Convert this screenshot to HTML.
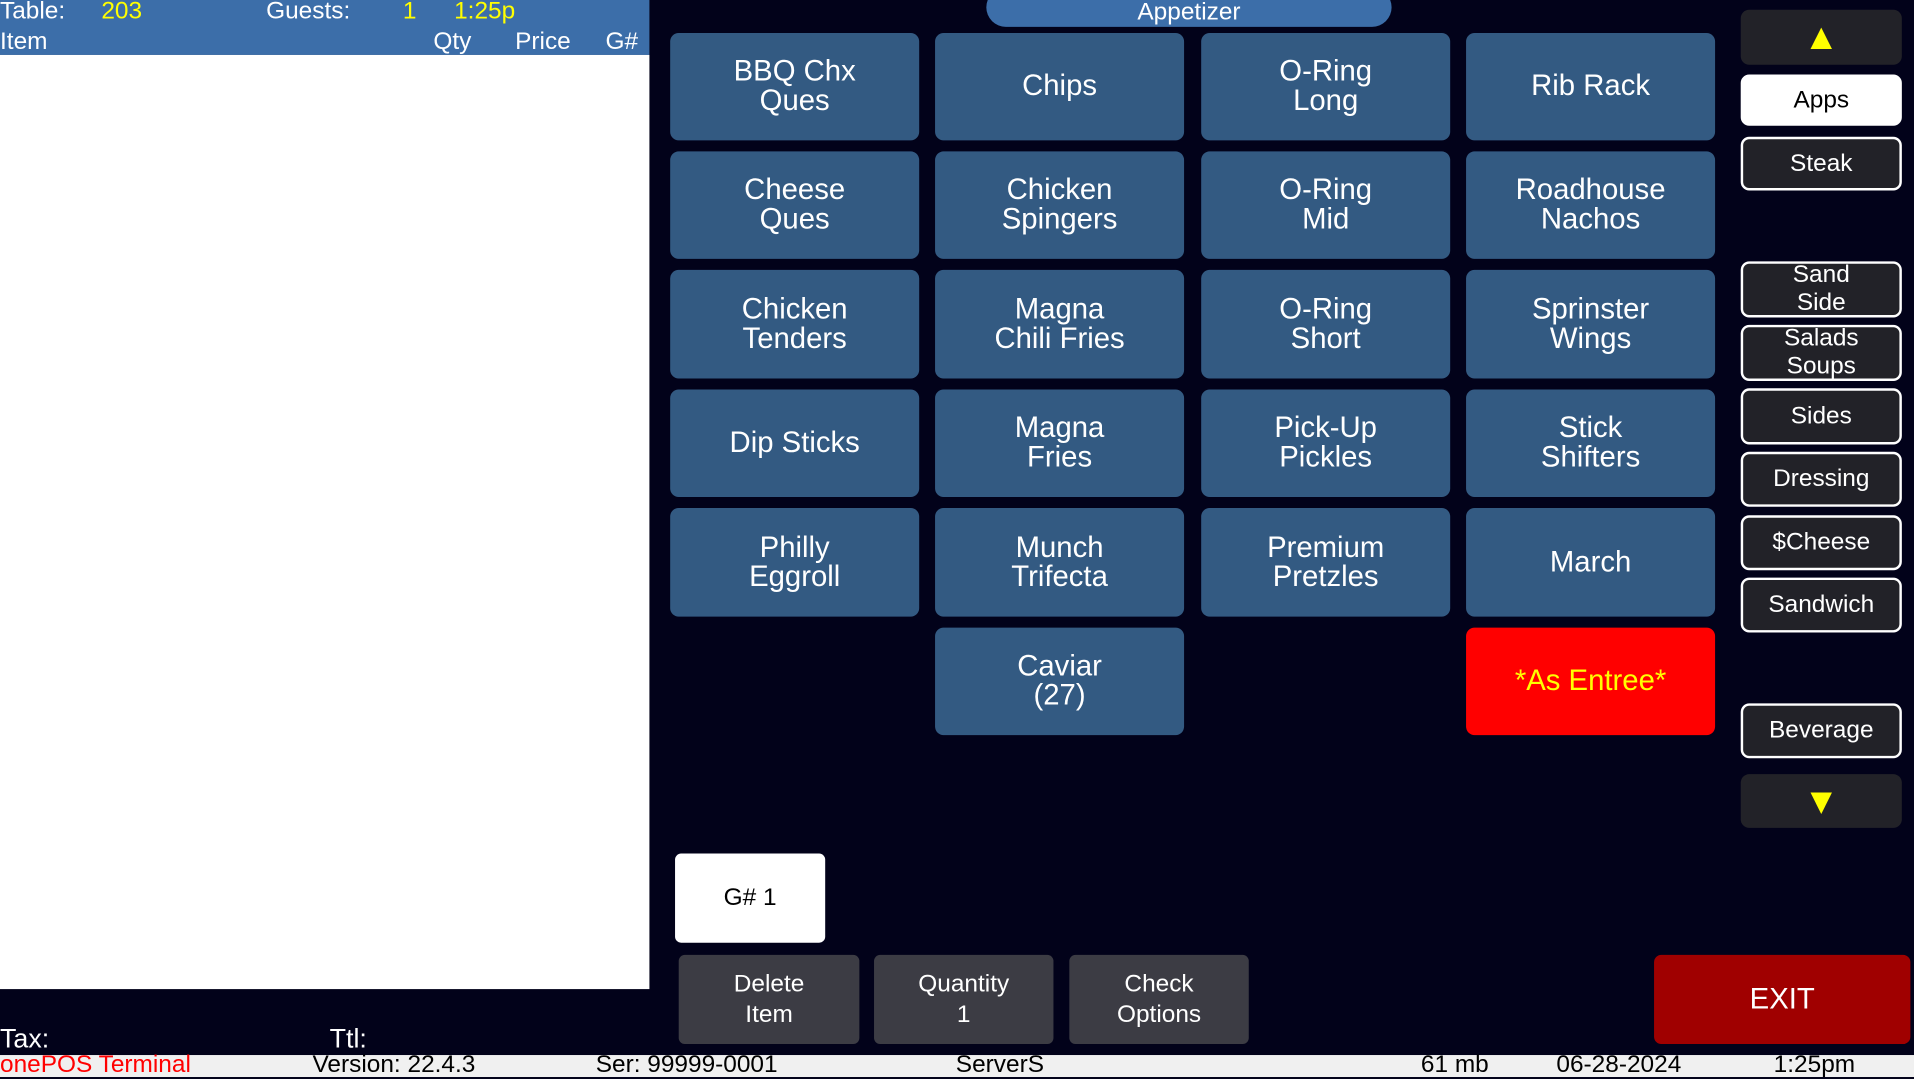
<!DOCTYPE html>
<html><head><meta charset="utf-8"><style>
html,body{margin:0;padding:0;width:1914px;height:1077px;overflow:hidden;background:#02021a;}
#s{position:absolute;left:0;top:0;width:1568px;height:882px;transform:scale(1.2207,1.2211);transform-origin:0 0;font-family:"Liberation Sans",sans-serif;}
.a{position:absolute;}
.b{position:absolute;background:#335a82;border-radius:7px;color:#fff;font-size:24px;line-height:24px;display:flex;align-items:center;justify-content:center;text-align:center;}
.r{position:absolute;left:1426px;width:132px;background:#222228;border:2px solid #fff;border-radius:7px;color:#fff;font-size:20px;line-height:23px;display:flex;align-items:center;justify-content:center;text-align:center;box-sizing:border-box;}
.g{position:absolute;background:#3c3c44;border-radius:5px;color:#fff;font-size:20px;line-height:25px;display:flex;align-items:center;justify-content:center;text-align:center;}
.t{position:absolute;font-size:20px;white-space:nowrap;}
</style></head><body><div id="s">
<div class="a" style="left:0;top:0;width:532px;height:45px;background:#3c6ea9"></div>
<div class="a" style="left:0;top:45px;width:532px;height:765px;background:#fff"></div>
<div class="t" style="left:0;top:-2px;color:#fff">Table:</div>
<div class="t" style="left:83px;top:-2px;color:#ff0">203</div>
<div class="t" style="left:218px;top:-2px;color:#fff">Guests:</div>
<div class="t" style="left:330px;top:-2px;color:#ff0">1</div>
<div class="t" style="left:372px;top:-2px;color:#ff0">1:25p</div>
<div class="t" style="left:0;top:23px;color:#fff">Item</div>
<div class="t" style="left:355px;top:23px;color:#fff">Qty</div>
<div class="t" style="left:422px;top:23px;color:#fff">Price</div>
<div class="t" style="left:496px;top:23px;color:#fff">G#</div>
<div class="a" style="left:808px;top:-10px;width:332px;height:32px;background:#3c6ea9;border-radius:16px;color:#fff;font-size:20px;text-align:center;line-height:40px">Appetizer</div>

<div class="b" style="left:549px;top:27px;width:204px;height:88px">BBQ Chx<br>Ques</div>
<div class="b" style="left:766px;top:27px;width:204px;height:88px">Chips</div>
<div class="b" style="left:984px;top:27px;width:204px;height:88px">O-Ring<br>Long</div>
<div class="b" style="left:1201px;top:27px;width:204px;height:88px">Rib Rack</div>

<div class="b" style="left:549px;top:124px;width:204px;height:88px">Cheese<br>Ques</div>
<div class="b" style="left:766px;top:124px;width:204px;height:88px">Chicken<br>Spingers</div>
<div class="b" style="left:984px;top:124px;width:204px;height:88px">O-Ring<br>Mid</div>
<div class="b" style="left:1201px;top:124px;width:204px;height:88px">Roadhouse<br>Nachos</div>

<div class="b" style="left:549px;top:221px;width:204px;height:89px">Chicken<br>Tenders</div>
<div class="b" style="left:766px;top:221px;width:204px;height:89px">Magna<br>Chili Fries</div>
<div class="b" style="left:984px;top:221px;width:204px;height:89px">O-Ring<br>Short</div>
<div class="b" style="left:1201px;top:221px;width:204px;height:89px">Sprinster<br>Wings</div>

<div class="b" style="left:549px;top:319px;width:204px;height:88px">Dip Sticks</div>
<div class="b" style="left:766px;top:319px;width:204px;height:88px">Magna<br>Fries</div>
<div class="b" style="left:984px;top:319px;width:204px;height:88px">Pick-Up<br>Pickles</div>
<div class="b" style="left:1201px;top:319px;width:204px;height:88px">Stick<br>Shifters</div>

<div class="b" style="left:549px;top:416px;width:204px;height:89px">Philly<br>Eggroll</div>
<div class="b" style="left:766px;top:416px;width:204px;height:89px">Munch<br>Trifecta</div>
<div class="b" style="left:984px;top:416px;width:204px;height:89px">Premium<br>Pretzles</div>
<div class="b" style="left:1201px;top:416px;width:204px;height:89px">March</div>

<div class="b" style="left:766px;top:514px;width:204px;height:88px">Caviar<br>(27)</div>
<div class="b" style="left:1201px;top:514px;width:204px;height:88px;background:#f00;color:#ff0">*As Entree*</div>

<div class="r" style="top:8px;height:45px;border:none;background:#222228;color:#ff0;font-size:30px">▲</div>
<div class="r" style="top:61px;height:42px;background:#fff;color:#000">Apps</div>
<div class="r" style="top:112px;height:44px">Steak</div>
<div class="r" style="top:214px;height:46px">Sand<br>Side</div>
<div class="r" style="top:266px;height:46px">Salads<br>Soups</div>
<div class="r" style="top:318px;height:46px">Sides</div>
<div class="r" style="top:370px;height:45px">Dressing</div>
<div class="r" style="top:422px;height:45px">$Cheese</div>
<div class="r" style="top:473px;height:45px">Sandwich</div>
<div class="r" style="top:576px;height:45px">Beverage</div>
<div class="r" style="top:634px;height:44px;border:none;color:#ff0;font-size:30px">▼</div>

<div class="a" style="left:553px;top:699px;width:123px;height:73px;background:#fff;border-radius:5px;font-size:20px;line-height:73px;text-align:center;color:#000">G# 1</div>
<div class="g" style="left:556px;top:782px;width:148px;height:73px">Delete<br>Item</div>
<div class="g" style="left:716px;top:782px;width:147px;height:73px">Quantity<br>1</div>
<div class="g" style="left:876px;top:782px;width:147px;height:73px">Check<br>Options</div>
<div class="a" style="left:1355px;top:782px;width:210px;height:73px;background:#a00000;border-radius:6px;color:#fff;font-size:24px;line-height:73px;text-align:center">EXIT</div>

<div class="t" style="left:0;top:838px;color:#fff;font-size:22px">Tax:</div>
<div class="t" style="left:270px;top:838px;color:#fff;font-size:22px">Ttl:</div>

<div class="a" style="left:0;top:864px;width:1568px;height:18px;background:#f0f0f0"></div>
<div class="t" style="left:0;top:861px;color:#f00">onePOS Terminal</div>
<div class="t" style="left:256px;top:861px;color:#000">Version: 22.4.3</div>
<div class="t" style="left:488px;top:861px;color:#000">Ser: 99999-0001</div>
<div class="t" style="left:783px;top:861px;color:#000">ServerS</div>
<div class="t" style="left:1164px;top:861px;color:#000">61 mb</div>
<div class="t" style="left:1275px;top:861px;color:#000">06-28-2024</div>
<div class="t" style="left:1453px;top:861px;color:#000">1:25pm</div>
</div></body></html>
